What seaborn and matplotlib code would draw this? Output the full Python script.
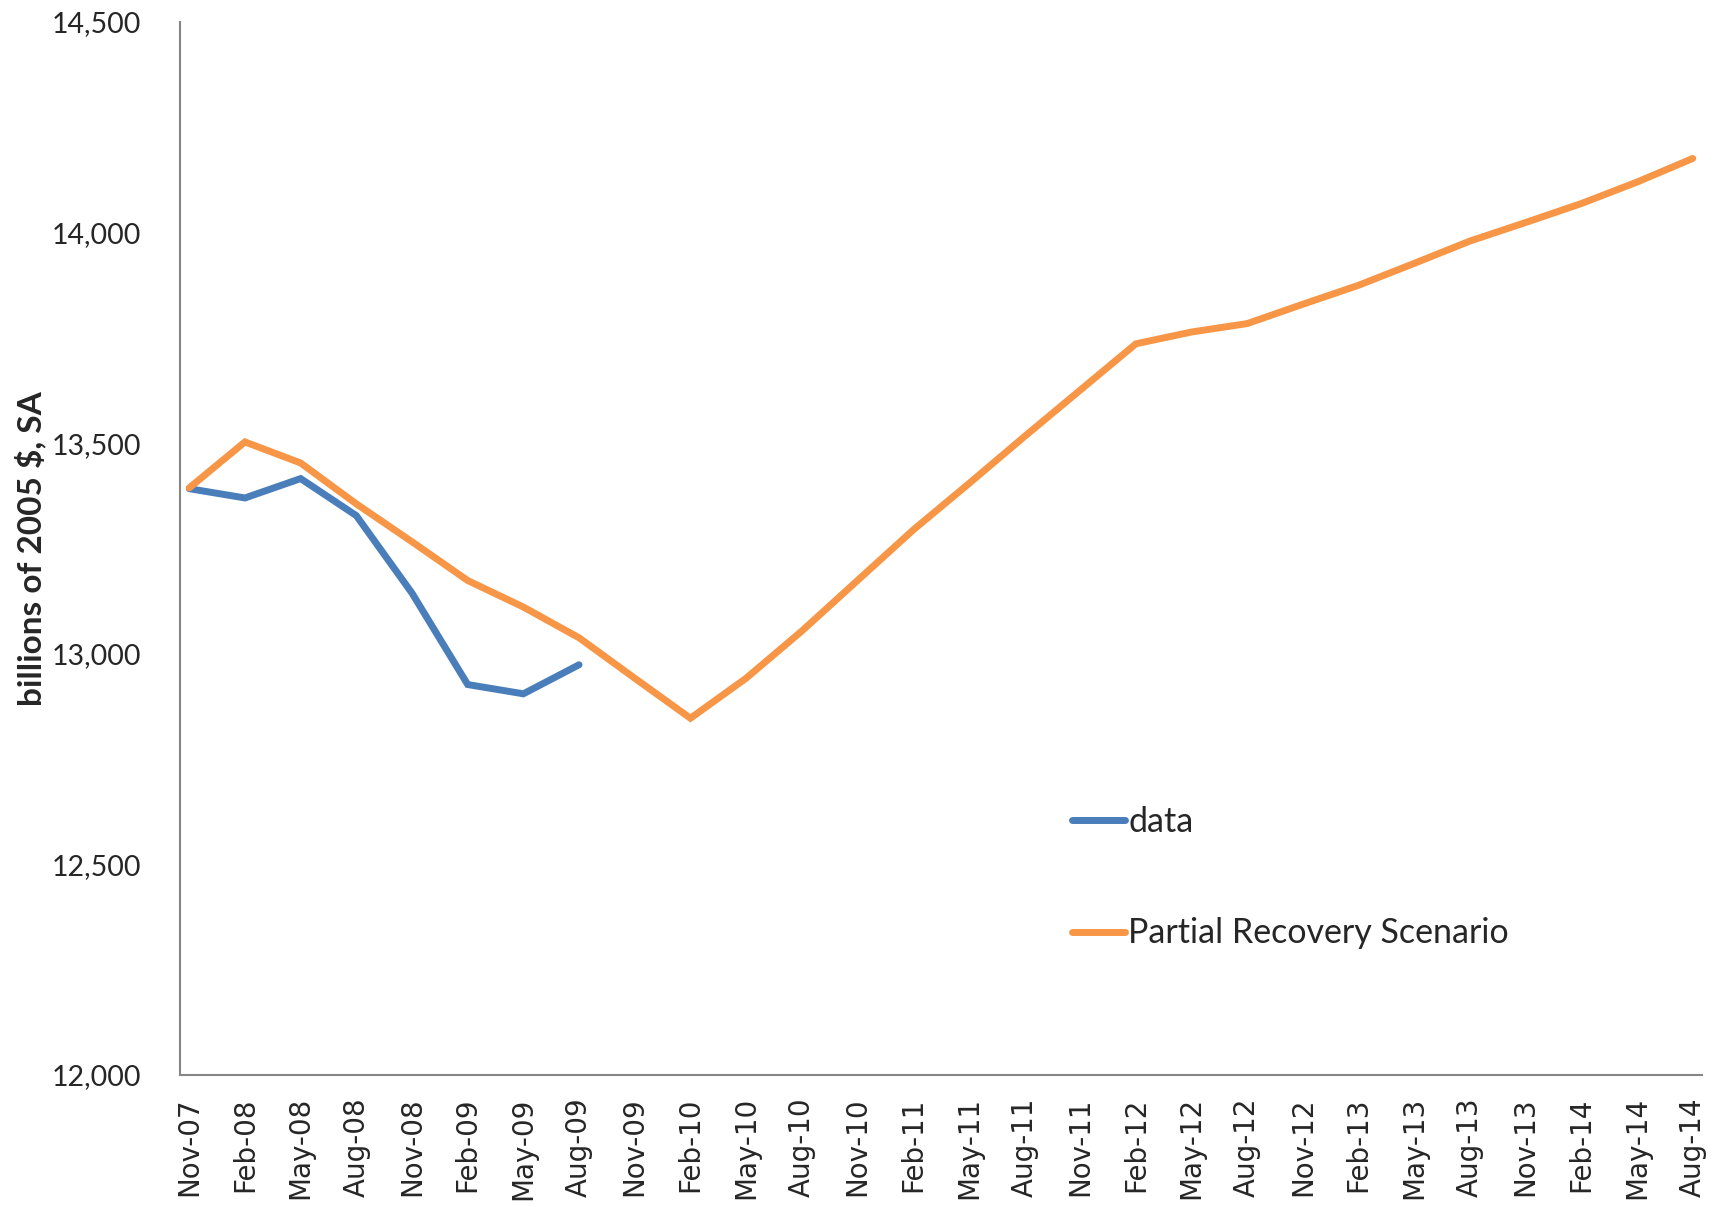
import numpy as np
import pandas as pd
import matplotlib
matplotlib.use('Agg')
import matplotlib.pyplot as plt
import seaborn as sns

# quarterly labels, Nov-07 .. Aug-14
quarters = ['Nov-07', 'Feb-08', 'May-08', 'Aug-08', 'Nov-08', 'Feb-09', 'May-09', 'Aug-09',
            'Nov-09', 'Feb-10', 'May-10', 'Aug-10', 'Nov-10', 'Feb-11', 'May-11', 'Aug-11',
            'Nov-11', 'Feb-12', 'May-12', 'Aug-12', 'Nov-12', 'Feb-13', 'May-13', 'Aug-13',
            'Nov-13', 'Feb-14', 'May-14', 'Aug-14']

data_values = [13392, 13370, 13416, 13328, 13144, 12927, 12905, 12974]

scenario_values = [13394, 13503, 13453, 13356, 13266, 13174, 13111, 13038,
                   12942, 12847, 12942, 13054, 13174, 13294, 13404, 13516,
                   13626, 13736, 13764, 13784, 13830, 13875, 13927, 13980,
                   14024, 14069, 14120, 14176]

yticks = [12000, 12500, 13000, 13500, 14000, 14500]

# months since Nov-07
months = [3 * i for i in range(len(quarters))]

df = pd.concat([
    pd.DataFrame({'month': months[:len(data_values)], 'value': data_values, 'series': 'data'}),
    pd.DataFrame({'month': months, 'value': scenario_values, 'series': 'Partial Recovery Scenario'}),
])

sns.set_style('white')
plt.rcParams['font.family'] = ['Lato', 'DejaVu Sans']

fig = plt.figure(figsize=(17.22, 12.07), dpi=100)
ax = fig.add_axes([180 / 1722, 1 - 1075 / 1207, (1702 - 180) / 1722, (1075 - 22) / 1207])

sns.lineplot(data=df, x='month', y='value', hue='series',
             palette={'data': '#4A7EBB', 'Partial Recovery Scenario': '#F79646'},
             linewidth=5, ax=ax, sort=False)
for ln in ax.lines:
    ln.set_solid_capstyle('round')
    ln.set_solid_joinstyle('miter')

ax.set_xlim(-0.5, months[-1] + 0.5)
ax.set_ylim(12000, 14500)

ax.set_yticks(yticks)
ax.set_yticklabels([f'{v:,}' for v in yticks], fontsize=20.5)

# major ticks at month-cell edges, labels centred on the month
ax.set_xticks([m - 0.5 for m in months])
ax.set_xticklabels([])
ax.set_xticks(months, minor=True)
ax.set_xticklabels(quarters, minor=True, rotation=90)
ax.tick_params(axis='x', which='minor', length=0, pad=16,
               labelsize=20, labelfontfamily='DejaVu Sans')
ax.tick_params(axis='x', which='major', length=10, width=1.5, color='#868686', direction='out')
ax.tick_params(axis='y', length=10, width=1.5, color='#868686', direction='out', pad=18)

for s in ['top', 'right']:
    ax.spines[s].set_visible(False)
for s in ['left', 'bottom']:
    ax.spines[s].set_color('#868686')
    ax.spines[s].set_linewidth(1.5)

ax.set_xlabel('')
ax.set_ylabel('billions of 2005 $, SA', fontsize=24, fontweight='bold', labelpad=4)

leg = ax.legend(loc='upper left', bbox_to_anchor=(0.566, 0.285), frameon=False,
                fontsize=24.5, handlelength=1.55, handletextpad=0.1, labelspacing=2.35)
for h in leg.legend_handles:
    h.set_linewidth(5)
    h.set_solid_capstyle('round')

fig.savefig('out.png', dpi=100)
